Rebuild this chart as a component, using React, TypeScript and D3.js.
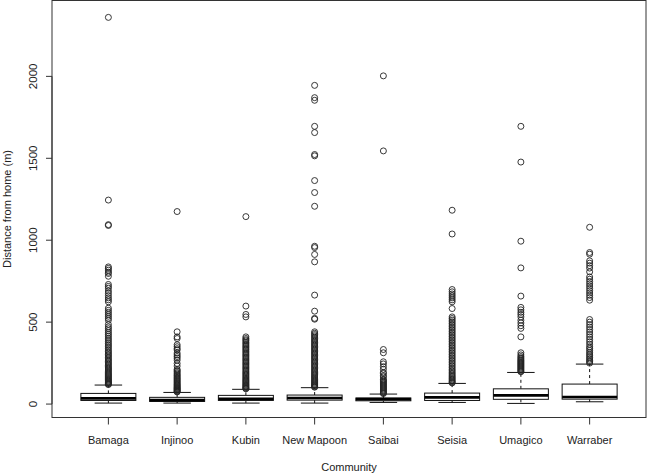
import React from 'react';
import * as d3 from 'd3';

// Community names along the x axis
const communities = ['Bamaga', 'Injinoo', 'Kubin', 'New Mapoon', 'Saibai', 'Seisia', 'Umagico', 'Warraber'];

// Five-number summaries (metres)
const lowerWhisker = [6, 6, 6, 6, 10, 10, 4, 14];
const q1 = [22, 16, 22, 24, 20, 22, 29, 30];
const median = [35, 24, 32, 37, 30, 41, 53, 43];
const q3 = [65, 41, 53, 55, 37, 67, 93, 122];
const upperWhisker = [116, 71, 90, 100, 61, 126, 193, 244];

// Outliers, one list per community
const outliersBamaga = [2360, 1245, 1095, 1090, 837, 828, 817, 805, 797, 780, 730, 718, 707, 690, 676, 662, 648, 636, 624,
  585, 572, 560, 548, 536, 524, 512, 486, 471, 460, 448, 436, 425, 414, 402, 392, 381, 370, 360, 350, 340, 329, 320, 311,
  302, 294, 285, 276, 268, 260, 252, 244, 236, 228, 221, 214, 207, 200, 193, 186, 180, 174, 168, 162, 156, 150, 145, 140,
  135, 130, 126, 122, 119];
const outliersInjinoo = [1175, 441, 410, 400, 362, 350, 338, 330, 311, 300, 290, 280, 268, 248, 232, 212, 205, 198, 190,
  183, 176, 170, 163, 157, 151, 145, 139, 133, 127, 121, 116, 111, 106, 101, 97, 93, 89, 85, 81, 77, 74];
const outliersKubin = [1144, 598, 547, 532, 410, 400, 392, 385, 376, 368, 360, 352, 344, 336, 329, 320, 312, 304, 296,
  288, 280, 272, 264, 256, 248, 240, 232, 224, 216, 208, 200, 192, 185, 178, 171, 164, 157, 150, 144, 138, 132, 126, 120,
  115, 110, 105, 100, 96, 93];
const outliersNewMapoon = [1945, 1870, 1854, 1695, 1657, 1523, 1515, 1364, 1291, 1207, 963, 955, 913, 868, 665, 567, 523,
  518, 441, 432, 424, 416, 408, 400, 392, 384, 376, 368, 360, 352, 344, 336, 328, 320, 312, 304, 296, 288, 280, 272, 264,
  256, 248, 240, 232, 224, 216, 208, 200, 193, 186, 179, 172, 165, 158, 151, 145, 139, 133, 127, 121, 116, 111, 106, 103];
const outliersSaibai = [2003, 1545, 333, 313, 258, 245, 228, 212, 193, 187, 173, 166, 151, 146, 140, 134, 128, 122, 116,
  110, 104, 98, 92, 86, 80, 74, 68, 64];
const outliersSeisia = [1183, 1038, 699, 685, 672, 660, 648, 636, 624, 583, 532, 522, 512, 502, 492, 482, 472, 462, 452,
  442, 432, 422, 412, 402, 392, 382, 372, 362, 352, 342, 332, 322, 312, 302, 292, 282, 272, 262, 252, 242, 232, 222, 212,
  203, 194, 185, 177, 169, 161, 154, 147, 140, 134, 129];
const outliersUmagico = [1695, 1477, 994, 831, 659, 590, 575, 560, 547, 532, 512, 495, 478, 462, 410, 313, 300, 290, 282,
  275, 268, 262, 256, 250, 244, 238, 232, 226, 220, 214, 208, 202, 197];
const outliersWarraber = [1079, 925, 915, 874, 860, 845, 830, 807, 776, 762, 748, 734, 720, 706, 692, 678, 664, 650, 634,
  516, 500, 485, 470, 455, 440, 425, 410, 395, 380, 365, 350, 340, 328, 316, 305, 295, 285, 275, 266, 258, 250];

const outliers = [outliersBamaga, outliersInjinoo, outliersKubin, outliersNewMapoon, outliersSaibai, outliersSeisia,
  outliersUmagico, outliersWarraber];

const yTicks = [0, 500, 1000, 1500, 2000];

const W = 647;
const H = 473;
const plot = {left: 52, right: 646, top: 0.5, bottom: 417.5};
const font = 'Liberation Sans, Arial, Helvetica, sans-serif';

const App = () => {
  // R style: categories at 1..n, xlim 0.5..n+0.5 extended by 4%
  const n = communities.length;
  const pad = 0.04 * n;
  const x = d3.scaleLinear().domain([0.5 - pad, n + 0.5 + pad]).range([plot.left, plot.right]);
  const y = d3.scaleLinear().domain([-82, 2463]).range([plot.bottom, plot.top]);
  const unit = x(2) - x(1);
  const boxW = 0.8 * unit;
  const stapleW = boxW / 2;

  return (
    <svg width={W} height={H} style={{position: 'absolute', left: 0, top: 0, background: '#fff'}}
         fontFamily={font}>
      {/* frame */}
      <rect x={plot.left} y={plot.top} width={plot.right - plot.left} height={plot.bottom - plot.top}
            fill="none" stroke="#333" strokeWidth={1}/>

      {/* y axis */}
      <line x1={plot.left} x2={plot.left} y1={y(0)} y2={y(2000)} stroke="#333"/>
      {yTicks.map(t => (
        <g key={t}>
          <line x1={plot.left - 6} x2={plot.left} y1={y(t)} y2={y(t)} stroke="#333"/>
          <text transform={`translate(37,${y(t)}) rotate(-90)`} textAnchor="middle" fontSize={11.5} fill="#222">{t}</text>
        </g>
      ))}
      <text transform={`translate(11,${(plot.top + plot.bottom) / 2}) rotate(-90)`} textAnchor="middle"
            fontSize={11} fill="#222">Distance from home (m)</text>

      {/* x axis */}
      <line x1={x(1)} x2={x(n)} y1={plot.bottom} y2={plot.bottom} stroke="#333"/>
      {communities.map((c, i) => (
        <g key={c}>
          <line x1={x(i + 1)} x2={x(i + 1)} y1={plot.bottom} y2={plot.bottom + 7} stroke="#333"/>
          <text x={x(i + 1)} y={444} textAnchor="middle" fontSize={11} fill="#222">{c}</text>
        </g>
      ))}
      <text x={(plot.left + plot.right) / 2} y={471} textAnchor="middle" fontSize={11} fill="#222">Community</text>

      {/* boxes */}
      {communities.map((c, i) => {
        const cx = x(i + 1);
        return (
          <g key={c} stroke="#111" fill="none">
            <line x1={cx} x2={cx} y1={y(q3[i])} y2={y(upperWhisker[i])} strokeDasharray="3,3"/>
            <line x1={cx} x2={cx} y1={y(q1[i])} y2={y(lowerWhisker[i])} strokeDasharray="3,3"/>
            <line x1={cx - stapleW / 2} x2={cx + stapleW / 2} y1={y(upperWhisker[i])} y2={y(upperWhisker[i])}/>
            <line x1={cx - stapleW / 2} x2={cx + stapleW / 2} y1={y(lowerWhisker[i])} y2={y(lowerWhisker[i])}/>
            <rect x={cx - boxW / 2} y={y(q3[i])} width={boxW} height={y(q1[i]) - y(q3[i])} fill="#fff"/>
            <line x1={cx - boxW / 2} x2={cx + boxW / 2} y1={y(median[i])} y2={y(median[i])} strokeWidth={2.6}
                  stroke="#000"/>
            {outliers[i].map((v, j) => (
              <circle key={j} cx={cx} cy={y(v)} r={3} stroke="#222" strokeWidth={0.9} fill="none"/>
            ))}
          </g>
        );
      })}
    </svg>
  );
};

export default App;
